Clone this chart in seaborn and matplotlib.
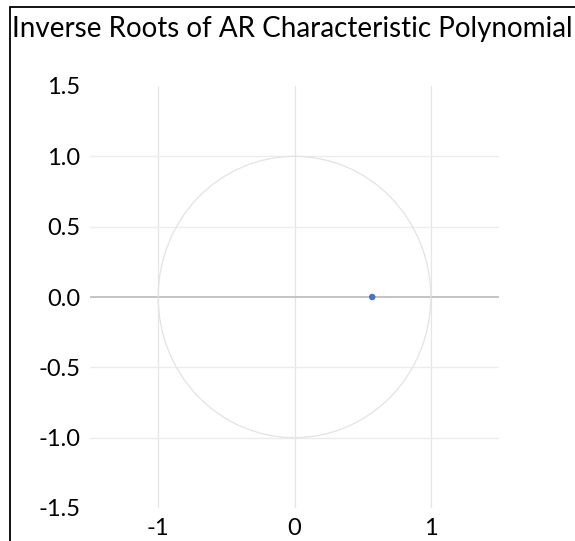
import matplotlib
matplotlib.use("Agg")
import matplotlib.pyplot as plt
import matplotlib.patches as mpatches
import seaborn as sns
import pandas as pd

# Inverse roots of the AR characteristic polynomial
root_re = [0.57]
root_im = [0.0]
x_ticks = [-1, 0, 1]
y_ticks = [-1.5, -1.0, -0.5, 0.0, 0.5, 1.0, 1.5]
title = "Inverse Roots of AR Characteristic Polynomial"

sns.set_style("white")
plt.rcParams["font.family"] = ["Lato", "DejaVu Sans"]

roots = pd.DataFrame({"re": root_re, "im": root_im})

fig = plt.figure(figsize=(5.75, 5.41), dpi=100)
ax = fig.add_axes([90 / 575, 33 / 541, 409 / 575, 422 / 541])

# gridlines (Excel style)
for x in x_ticks:
    ax.axvline(x, color="#e6e6e6", lw=0.9, zorder=0)
for y in y_ticks:
    if abs(y) < 1.5:
        ax.axhline(y, color="#bfbfbf" if y == 0 else "#ececec",
                   lw=1.3 if y == 0 else 1.0, zorder=0.5 if y == 0 else 0)

# unit circle
ax.add_patch(mpatches.Circle((0, 0), 1, fill=False, ec="#e3e3e3", lw=0.9, zorder=1))

sns.scatterplot(data=roots, x="re", y="im", ax=ax, color="#4472c4",
                s=22, edgecolor="none", zorder=3)

ax.set_xlim(-1.5, 1.5)
ax.set_ylim(-1.5, 1.5)
ax.set_xticks(x_ticks)
ax.set_xticklabels([str(v) for v in x_ticks])
ax.set_yticks(y_ticks)
ax.set_yticklabels([f"{v:.1f}" for v in y_ticks])
ax.tick_params(axis="both", length=0, labelsize=17, colors="black")
ax.tick_params(axis="y", pad=7)
ax.tick_params(axis="x", pad=7)
ax.set_xlabel("")
ax.set_ylabel("")
for sp in ax.spines.values():
    sp.set_visible(False)

fig.text(12 / 575, 1 - 29 / 541, title, fontsize=20, color="black",
         ha="left", va="center")

# chart border (cropped at right/bottom)
fig.add_artist(mpatches.Rectangle((9.5 / 575, -0.2), 1.2, 1 - 6.5 / 541 + 0.2,
                                  transform=fig.transFigure, fill=False,
                                  ec="black", lw=1.3))

fig.savefig("out.png", dpi=100)
